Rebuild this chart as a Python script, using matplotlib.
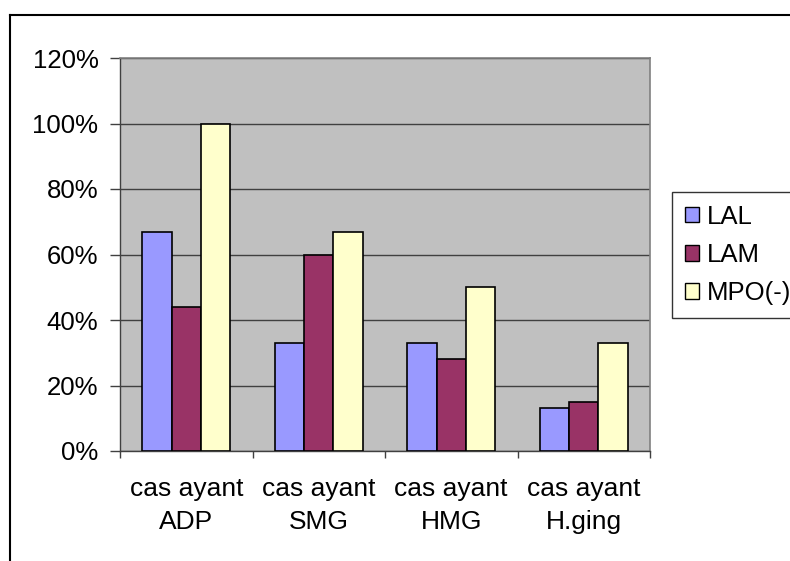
import matplotlib
matplotlib.use("Agg")
import matplotlib.pyplot as plt
from matplotlib.lines import Line2D
from matplotlib.patches import Patch
import numpy as np

plt.rcParams['font.family'] = ['Liberation Sans', 'DejaVu Sans']

categories = ["cas ayant\nADP", "cas ayant\nSMG", "cas ayant\nHMG", "cas ayant\nH.ging"]
series_names = ["LAL", "LAM", "MPO(-)"]
lal = [67, 33, 33, 13]
lam = [44, 60, 28, 15]
mpo = [100, 67, 50, 33]
colors = ["#9999FF", "#993366", "#FFFFCC"]
yticks = [0, 20, 40, 60, 80, 100, 120]
ytick_labels = ["0%", "20%", "40%", "60%", "80%", "100%", "120%"]

W, H = 790, 561
fig = plt.figure(figsize=(W / 100, H / 100), dpi=100)

# outer chart frame (only top and left edges are inside the canvas)
fig.add_artist(Line2D([10 / W, 10 / W], [0, 1 - 15 / H], color="black", lw=1.5,
                      transform=fig.transFigure))
fig.add_artist(Line2D([10 / W, 1], [1 - 15 / H, 1 - 15 / H], color="black", lw=1.5,
                      transform=fig.transFigure))

left, right, top, bottom = 120, 650, 58, 451
ax = fig.add_axes([left / W, 1 - bottom / H, (right - left) / W, (bottom - top) / H])
ax.set_facecolor("#C0C0C0")

x = np.arange(len(categories))
bw = 0.6667 / 3
for i, (vals, c, name) in enumerate(zip([lal, lam, mpo], colors, series_names)):
    ax.bar(x + (i - 1) * bw, vals, width=bw, color=c, edgecolor="black", linewidth=1.2,
           label=name, zorder=3)

ax.set_xlim(-0.5, len(categories) - 0.5)
ax.set_ylim(0, 120)
ax.set_yticks(yticks)
ax.set_yticklabels(ytick_labels, fontsize=18.5)
ax.yaxis.grid(True, color="#404040", lw=1.0, zorder=1)
ax.set_axisbelow(True)

ax.set_xticks(x)
ax.set_xticklabels(categories, fontsize=19, linespacing=1.46)
ax.tick_params(axis="x", length=0, pad=19)
ax.set_xticks(np.arange(len(categories) + 1) - 0.5, minor=True)
ax.tick_params(axis="x", which="minor", length=5, width=1, color="#404040")
ax.tick_params(axis="y", length=7, width=1, color="#404040", pad=8.5)

for s in ["top", "right"]:
    ax.spines[s].set_color("#808080")
    ax.spines[s].set_linewidth(1.2)
for s in ["left", "bottom"]:
    ax.spines[s].set_color("#404040")
    ax.spines[s].set_linewidth(1.0)

handles = [Patch(facecolor=c, edgecolor="black", linewidth=1.0) for c in colors]
leg = fig.legend(handles, series_names, loc="upper left",
                 bbox_to_anchor=(672 / W, 1 - 192 / H), fontsize=18.5,
                 frameon=True, fancybox=False, handlelength=0.55, handleheight=0.55,
                 handletextpad=0.3, labelspacing=0.55, borderpad=0.5,
                 borderaxespad=0)
leg.get_frame().set_edgecolor("black")
leg.get_frame().set_linewidth(1.0)

fig.savefig("out.png", dpi=100)
